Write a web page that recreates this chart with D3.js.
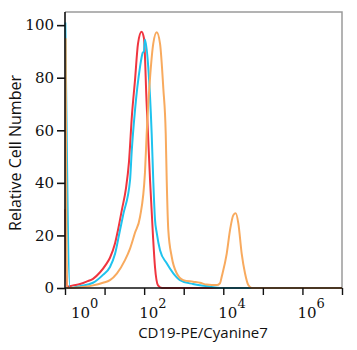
<!DOCTYPE html>
<html>
<head>
<meta charset="utf-8">
<script src="https://cdn.jsdelivr.net/npm/d3@7"></script>
<style>
  body { margin: 0; background: #fff; }
  svg { display: block; }
</style>
</head>
<body>
<div id="chart"></div>
<script>
// histogram traces, [intensity, relative count]
const redTrace = [
  [1.02, 30], [1.12, 0.5], [1.6, 1], [2.4, 1.5], [3.6, 2.5], [5.1, 3.5], [7.7, 6],
  [10.9, 9], [13.7, 11.5], [18.4, 17], [21.8, 22], [27.6, 30], [34.8, 38],
  [41.4, 48], [49.3, 66], [58.7, 79], [70, 93], [85.8, 97.5], [99, 95],
  [115, 71], [141, 41], [167, 20], [188, 8], [224, 1], [283, 0], [1e7, 0]
];
const cyanTrace = [
  [1.02, 101], [1.34, 0], [2.4, 0.7], [5.1, 2], [9.1, 5], [13.7, 8], [18.4, 13],
  [24.5, 22], [29.7, 28], [44, 41], [48.5, 52], [58.7, 67.6], [78.6, 84],
  [92, 89.5], [99, 90], [105, 94.5], [127, 84], [155, 58.8], [170, 41],
  [188, 26], [208, 21], [252, 14.4], [372, 9.4], [546, 5.6], [806, 3],
  [1718, 1.5], [4615, 0.5], [8260, 0], [1e7, 0]
];
const orangeTrace = [
  [1.04, 95], [1.12, 0], [3.2, 0.5], [5.1, 1], [9.1, 2], [13.7, 3], [20.6, 5.6],
  [32.8, 10.6], [44, 15], [58.7, 21], [78.6, 27], [105, 44], [116, 58.8],
  [141, 80], [170, 93], [208, 97.3], [252, 93], [305, 76], [351, 58.8],
  [372, 41], [408, 22], [497, 11.9], [665, 5.6], [977, 3], [1718, 2.4],
  [2581, 2], [3814, 1.3], [6820, 1.1], [8260, 1.8], [9120, 4.3], [12190, 13],
  [14790, 22], [17910, 27.7], [20600, 28.4], [23990, 24.6], [29240, 13],
  [35390, 5.6], [42870, 1.1], [52240, 0], [1e7, 0]
];

const yMajor = [0, 20, 40, 60, 80, 100];
const xLabelExp = [0, 2, 4, 6];

const width = 357, height = 350;
const svg = d3.select("#chart").append("svg")
  .attr("width", width).attr("height", height);

const x = d3.scaleLog().domain([1, 1e7]).range([65, 342]);
const y = d3.scaleLinear().domain([0, 105]).range([288, 12]);

// frame
svg.append("path")
  .attr("d", `M${x(1)},${y(105)}H${x(1e7)}V${y(0)}`)
  .attr("fill", "none").attr("stroke", "#9a9a9a").attr("stroke-width", 1.5);

// traces
const line = d3.line()
  .x(d => x(d[0]))
  .y(d => y(d[1]))
  .curve(d3.curveMonotoneX);

const traces = [
  { data: redTrace, color: "#f0353f" },
  { data: cyanTrace, color: "#1fc3ee" },
  { data: orangeTrace, color: "#f8aa5e" }
];
svg.selectAll("path.trace").data(traces).join("path")
  .attr("class", "trace")
  .attr("d", d => line(d.data))
  .attr("fill", "none")
  .attr("stroke", d => d.color)
  .attr("stroke-width", 2);

// y axis
const yMinor = d3.range(0, 105, 5).filter(v => v % 20 !== 0);
const yAx = svg.append("g").attr("transform", `translate(${x(1)},0)`);
yAx.call(d3.axisLeft(y).tickValues(yMinor).tickSize(4).tickFormat(""));
yAx.call(d3.axisLeft(y).tickValues(yMajor).tickSize(8).tickPadding(3).tickFormat(d3.format("d")));
yAx.selectAll(".domain").remove();
yAx.selectAll("line").attr("stroke", "#111").attr("stroke-width", 1.6);
yAx.selectAll("text")
  .attr("font-family", "DejaVu Serif").attr("font-size", 15).attr("fill", "#111");

// x axis
const decades = d3.range(0, 8).map(e => Math.pow(10, e));
const xMinor = [];
decades.slice(0, 7).forEach(d => { for (let k = 2; k < 10; k++) xMinor.push(d * k); });
const xAx = svg.append("g").attr("transform", `translate(0,${y(0)})`);
xAx.call(d3.axisBottom(x).tickValues(xMinor).tickSize(4).tickFormat(""));
xAx.call(d3.axisBottom(x).tickValues(decades).tickSize(7).tickFormat(""));
xAx.selectAll(".domain").remove();
xAx.selectAll("line").attr("stroke", "#111").attr("stroke-width", 1.4);

// axis lines
svg.append("path")
  .attr("d", `M${x(1)},${y(105)}V${y(0)}H${x(1e7)}`)
  .attr("fill", "none").attr("stroke", "#111").attr("stroke-width", 1.6);

// x tick labels 10^n
const xl = svg.append("g")
  .attr("font-family", "DejaVu Serif").attr("fill", "#111");
const lab = xl.selectAll("text").data(xLabelExp).join("text")
  .attr("x", e => x(Math.pow(10, e)) + (e === 0 ? 6 : -5))
  .attr("y", 318)
  .attr("font-size", 15);
lab.append("tspan").text("10");
lab.append("tspan").attr("dy", -10).attr("font-size", 13).text(e => e);

// titles
svg.append("text")
  .attr("transform", `translate(21,${(y(0) + y(105)) / 2 + 3}) rotate(-90)`)
  .attr("text-anchor", "middle")
  .attr("font-family", "Open Sans").attr("font-size", 16).attr("fill", "#111")
  .text("Relative Cell Number");

svg.append("text")
  .attr("x", 203).attr("y", 338)
  .attr("text-anchor", "middle")
  .attr("font-family", "Open Sans").attr("font-size", 15).attr("fill", "#111")
  .text("CD19-PE/Cyanine7");
</script>
</body>
</html>
